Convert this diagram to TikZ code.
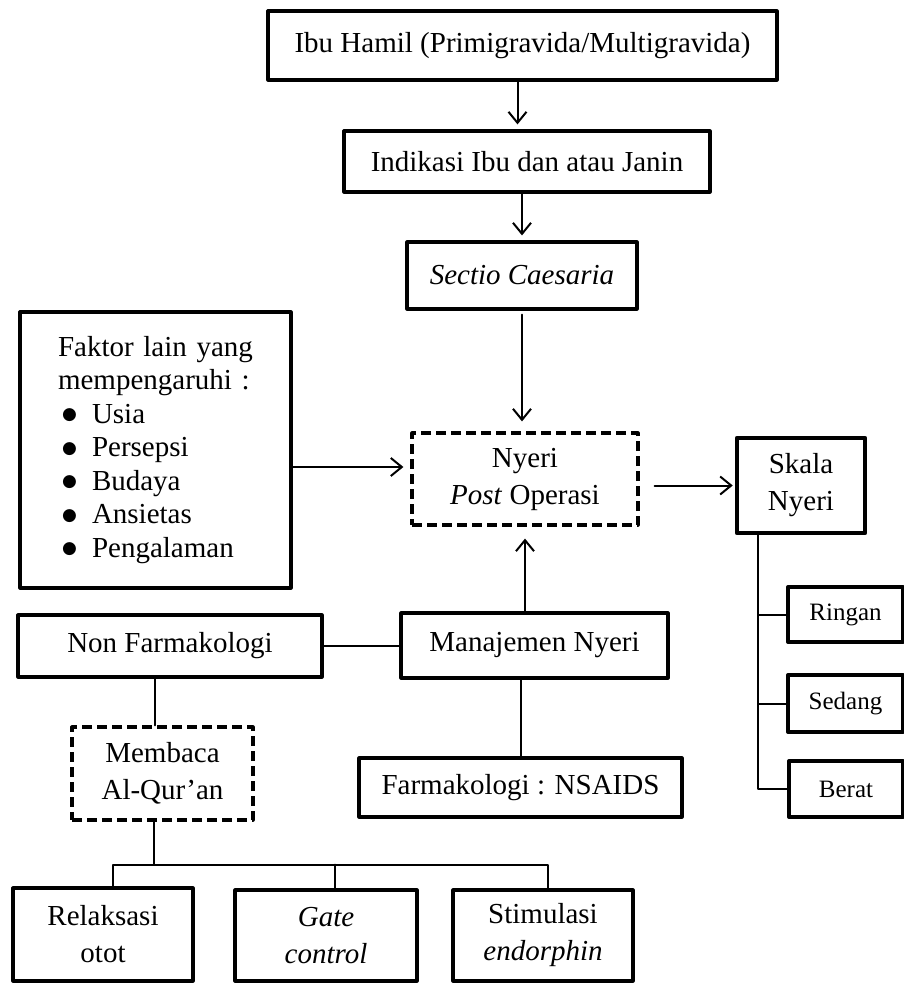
\documentclass[tikz,border=0pt]{standalone}
\usepackage{fontspec}
\setmainfont{Liberation Serif}
\newfontfamily\symfont{DejaVu Sans}
\usetikzlibrary{arrows.meta}

\newcommand{\bigdot}{\hspace*{4pt}\makebox[30pt][l]{\raisebox{3.5pt}{\symfont\fontsize{17}{17}\selectfont ●}}}

\begin{document}
\begin{tikzpicture}[x=1pt, y=-1pt, >={Straight Barb[length=11pt,width=18pt]},
	line cap=round, line join=round, font=\fontsize{29}{37}\selectfont,
	box/.style={draw, line width=3.2pt, inner sep=0pt, align=center},
	dbox/.style={box, line cap=butt, dash pattern=on 10pt off 5pt},
	lvlbox/.style={box, line width=4pt, font=\fontsize{25}{30}\selectfont},
	link/.style={line width=2pt}]
	
	\useasboundingbox (0,0) rectangle (904,983);
	
	% ===== Top: from pregnancy to the operation =====
	\node[box, minimum width=509, minimum height=69] (hamil) at (522.5,45.5) {Ibu Hamil (Primigravida/Multigravida)};
	\node[box, minimum width=366, minimum height=61] (indikasi) at (527,161.5) {Indikasi Ibu dan atau Janin};
	\node[box, minimum width=230, minimum height=67] (sectio) at (522,275.5) {\textit{Sectio Caesaria}};
	
	\draw[link,->,shorten >=5pt] ([xshift=-5pt]hamil.south) -- ([xshift=-5pt]hamil.south |- indikasi.north);
	\draw[link,->,shorten >=5pt] (sectio.north |- indikasi.south) -- (sectio.north);
	
	% ===== Middle: pain and its influences =====
	\node[dbox, minimum width=226, minimum height=92] (nyeri) at (525,479) {Nyeri\\\textit{Post} Operasi};
	\node[box, line width=4.5pt, minimum width=128, minimum height=95] (skala) at (801,485.5) {Skala\\Nyeri};
	\node[box, minimum width=271, minimum height=276, text width=195, align=left,
		font=\fontsize{29}{33.5}\selectfont] (faktor) at (155.5,450) {Faktor lain yang\\mempengaruhi :\\
		\bigdot Usia\\
		\bigdot Persepsi\\
		\bigdot Budaya\\
		\bigdot Ansietas\\
		\bigdot Pengalaman};
	\coordinate (inFaktor) at ([yshift=12pt]nyeri.west);
	
	\draw[link,->,shorten <=4pt,shorten >=10pt] (sectio.south) -- (sectio.south |- nyeri.north);
	\draw[link,->,shorten >=7pt] (faktor.east |- inFaktor) -- (inFaktor);
	\draw[link,->,shorten <=15pt,shorten >=2pt] (nyeri.east |- skala.west) -- (skala.west);
	
	% pain scale levels
	\node[lvlbox, minimum width=115, minimum height=55] (ringan) at (845.5,614.5) {Ringan};
	\node[lvlbox, minimum width=115, minimum height=57] (sedang) at (845.5,703.5) {Sedang};
	\node[lvlbox, minimum width=114, minimum height=56] (berat) at (846,789) {Berat};
	\coordinate (trunk) at ([xshift=-43pt]skala.south);
	\draw[link] (trunk) |- (berat.west);
	\draw[link] (trunk |- ringan.west) -- (ringan.west);
	\draw[link] (trunk |- sedang.west) -- (sedang.west);
	
	% ===== Bottom: pain management =====
	\node[box, minimum width=304, minimum height=62] (nonfarm) at (170,646) {Non Farmakologi};
	\node[box, minimum width=267, minimum height=65] (manaj) at (534.5,645.5) {Manajemen Nyeri};
	\node[box, minimum width=323, minimum height=59] (farmak) at (520.5,787.5) {Farmakologi : NSAIDS};
	\node[dbox, minimum width=181, minimum height=93] (membaca) at (162.5,773.5) {Membaca\\Al-Qur'an};
	
	\draw[link,->,shorten >=12pt] (nyeri.south |- manaj.north) -- (nyeri.south);
	\draw[link] (nonfarm.east) -- (nonfarm.east -| manaj.west);
	\draw[link] (farmak.north |- manaj.south) -- (farmak.north);
	\draw[link] ([xshift=-8pt]membaca.north |- nonfarm.south) -- ([xshift=-8pt]membaca.north);
	
	% effects of reading
	\node[box, minimum width=180, minimum height=93] (relaks) at (103,934.5) {Relaksasi\\otot};
	\node[box, minimum width=182, minimum height=91] (gate) at (326,935.5) {\textit{Gate}\\\textit{control}};
	\node[box, minimum width=180, minimum height=91] (stim) at (543,935.5) {Stimulasi\\\textit{endorphin}};
	\coordinate (bus) at ([xshift=-9pt,yshift=-43pt]membaca.south);
	\draw[link] ([xshift=-9pt]membaca.south) -- (bus);
	\draw[link] ([xshift=10pt]relaks.north) |- (bus) -| ([xshift=5pt]stim.north);
	\draw[link] ([xshift=9pt]gate.north) -- ([xshift=9pt]gate.north |- bus);
	
\end{tikzpicture}
\end{document}
